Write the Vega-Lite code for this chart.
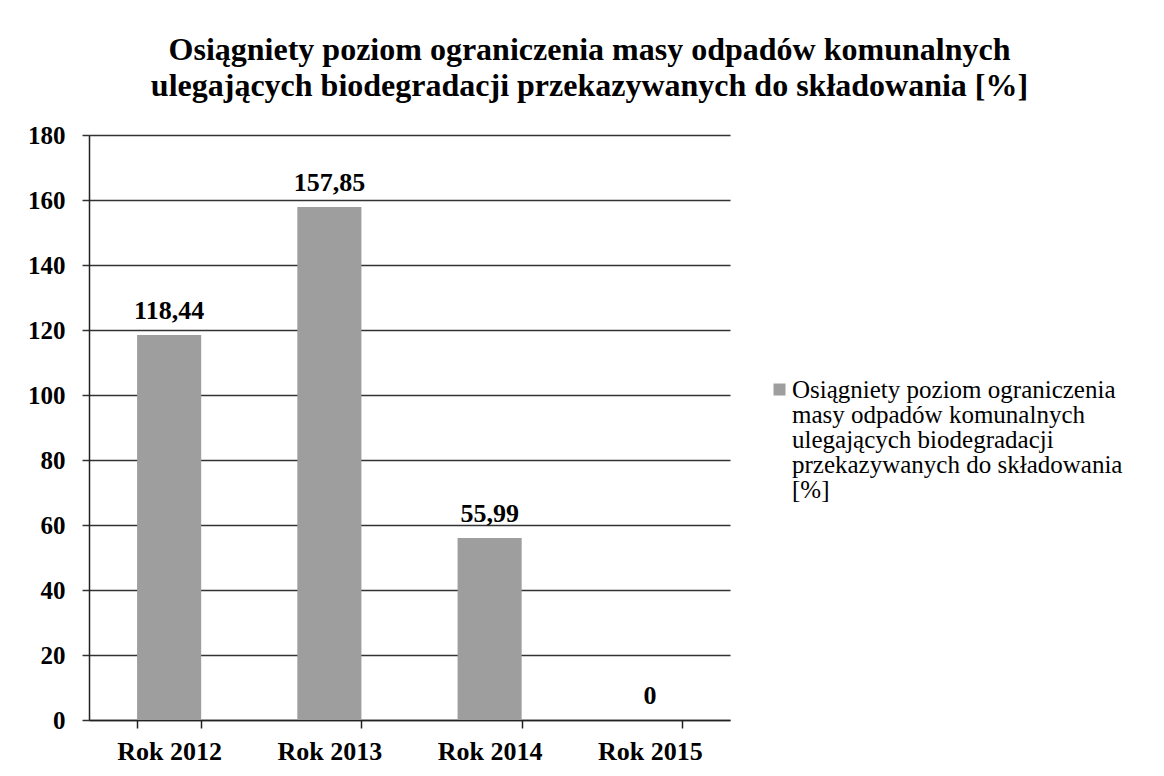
{
  "$schema": "https://vega.github.io/schema/vega-lite/v6.json",
  "width": 641,
  "height": 585,
  "autosize": {"type": "none"},
  "padding": {"left": 89, "top": 135, "right": 434, "bottom": 56},
  "background": "white",
  "title": {
    "text": ["Osiągniety poziom ograniczenia masy odpadów komunalnych", "ulegających biodegradacji przekazywanych do składowania [%]"],
    "font": "Liberation Serif",
    "fontSize": 32,
    "fontWeight": "bold",
    "lineHeight": 36,
    "color": "black",
    "anchor": "middle",
    "frame": "group",
    "dx": 180,
    "offset": 20
  },
  "data": {
    "values": [
      {"rok": "Rok 2012", "wartosc": 118.44, "seria": "Osiągniety poziom ograniczenia\nmasy odpadów komunalnych\nulegających biodegradacji\nprzekazywanych do składowania\n[%]"},
      {"rok": "Rok 2013", "wartosc": 157.85, "seria": "Osiągniety poziom ograniczenia\nmasy odpadów komunalnych\nulegających biodegradacji\nprzekazywanych do składowania\n[%]"},
      {"rok": "Rok 2014", "wartosc": 55.99, "seria": "Osiągniety poziom ograniczenia\nmasy odpadów komunalnych\nulegających biodegradacji\nprzekazywanych do składowania\n[%]"},
      {"rok": "Rok 2015", "wartosc": 0, "seria": "Osiągniety poziom ograniczenia\nmasy odpadów komunalnych\nulegających biodegradacji\nprzekazywanych do składowania\n[%]"}
    ]
  },
  "encoding": {
    "x": {
      "field": "rok",
      "type": "nominal",
      "sort": null,
      "scale": {"paddingInner": 0.6, "paddingOuter": 0.3},
      "axis": {
        "title": null,
        "labelAngle": 0,
        "labelFont": "Liberation Serif",
        "labelFontSize": 26,
        "labelFontWeight": "bold",
        "labelColor": "black",
        "labelPadding": 10,
        "tickBand": "extent",
        "tickSize": 8,
        "tickColor": "#222",
        "tickWidth": 1.5,
        "domainColor": "#222",
        "domainWidth": 1.5,
        "grid": false
      }
    },
    "y": {
      "field": "wartosc",
      "type": "quantitative",
      "scale": {"domain": [0, 180], "nice": false},
      "axis": {
        "title": null,
        "values": [0, 20, 40, 60, 80, 100, 120, 140, 160, 180],
        "labelFont": "Liberation Serif",
        "labelFontSize": 25,
        "labelFontWeight": "bold",
        "labelColor": "black",
        "labelPadding": 17,
        "tickSize": 7,
        "tickColor": "#333",
        "tickWidth": 1.5,
        "domainColor": "#222",
        "domainWidth": 1.5,
        "grid": true,
        "gridColor": "#333",
        "gridWidth": 1.5
      }
    }
  },
  "layer": [
    {
      "mark": {"type": "bar", "color": "#9e9e9e"},
      "encoding": {
        "color": {
          "field": "seria",
          "type": "nominal",
          "scale": {"range": ["#9e9e9e"]},
          "legend": {
            "title": null,
            "orient": "none",
            "legendX": 678,
            "legendY": 250,
            "padding": 0,
            "symbolType": "M-1,-2.33H1V-0.33H-1Z",
            "symbolSize": 144,
            "symbolStrokeWidth": 0,
            "labelFont": "Liberation Serif",
            "labelFontSize": 25,
            "labelColor": "black",
            "labelBaseline": "alphabetic",
            "labelOffset": 0,
            "labelLimit": 500,
            "labelExpr": "split(datum.label, '\\n')"
          }
        }
      }
    },
    {
      "mark": {
        "type": "text",
        "baseline": "alphabetic",
        "dy": -16,
        "font": "Liberation Serif",
        "fontSize": 26,
        "fontWeight": "bold",
        "color": "black"
      },
      "encoding": {
        "text": {"field": "wartosc", "type": "quantitative", "format": ".2~f"}
      }
    }
  ],
  "config": {
    "view": {"stroke": null},
    "locale": {
      "number": {"decimal": ",", "thousands": " ", "grouping": [3], "currency": ["", " zł"]}
    },
    "style": {"guide-label": {"lineHeight": 25}}
  }
}
